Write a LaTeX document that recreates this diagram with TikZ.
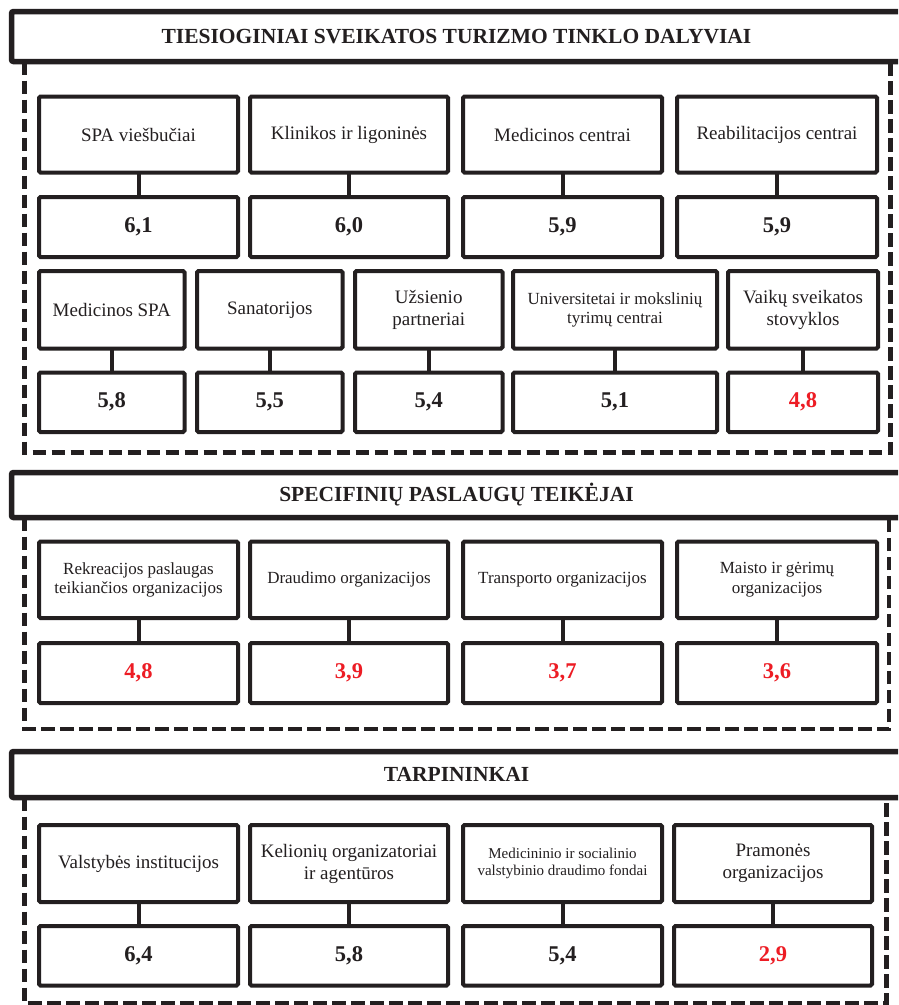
\documentclass[tikz,border=0pt]{standalone}
\usepackage{fontspec}
\setmainfont{Liberation Serif}
\definecolor{ink}{HTML}{231F20}
\definecolor{hot}{HTML}{ED1C24}

% place a named node from its corner coordinates: name, x1, y1, x2, y2, style, text
\newcommand\placebox[7]{%
  \pgfmathsetmacro\pbW{#4-#2}\pgfmathsetmacro\pbH{#5-#3}%
  \pgfmathsetmacro\pbX{(#2+#4)/2}\pgfmathsetmacro\pbY{(#3+#5)/2}%
  \node[#6, minimum width=\pbW pt, minimum height=\pbH pt] (#1) at (\pbX,\pbY) {#7};}

\begin{document}
\begin{tikzpicture}[x=1pt,y=-1pt,
  hdr/.style={draw=ink, line width=5.5pt, rounded corners=2pt, fill=white,
    inner sep=0pt, outer sep=0pt, text=ink,
    font=\fontsize{21.5}{24}\selectfont\bfseries},
  grp/.style={draw=ink, line width=4.5pt, dash pattern=on 13.5pt off 5.5pt},
  lbl/.style={draw=ink, line width=4pt, rounded corners=1.5pt, fill=white,
    inner sep=0pt, outer sep=0pt, align=center, text=ink,
    font=\fontsize{19}{22}\selectfont},
  small/.style={font=\fontsize{17}{19.5}\selectfont},
  tiny/.style={font=\fontsize{15}{17}\selectfont},
  val/.style={draw=ink, line width=4pt, rounded corners=1.5pt, fill=white,
    inner sep=0pt, outer sep=0pt, text=ink,
    font=\fontsize{22.5}{26}\selectfont\bfseries},
  low/.style={text=hot},
  link/.style={draw=ink, line width=4pt}]

\useasboundingbox (0,0) rectangle (898,1005);
\clip (0,0) rectangle (898,1005);
\fill[white] (0,0) rectangle (898,1005);

% dashed group frames
\draw[grp] (24.5,61.5) -- (24.5,452.5) -- (890.5,452.5) -- (890.5,61.5);
\draw[grp] (24.5,517.5) -- (24.5,729) -- (889,729) -- (889,517.5);
\draw[grp] (24.5,797.5) -- (24.5,1003) -- (886.5,1003) -- (886.5,797.5);

% group headers
\placebox{h1}{11.5}{11.5}{901.5}{61.5}{hdr}{TIESIOGINIAI SVEIKATOS TURIZMO TINKLO DALYVIAI}
\placebox{h2}{11.5}{472.5}{901.5}{517.5}{hdr}{SPECIFINIŲ PASLAUGŲ TEIKĖJAI}
\placebox{h3}{11.5}{751.5}{901.5}{797.5}{hdr}{TARPININKAI}

% direct participants, first row
\placebox{a1}{39}{96.5}{238}{172.5}{lbl}{SPA viešbučiai}
\placebox{a2}{250}{96.5}{448}{172.5}{lbl}{Klinikos ir ligoninės}
\placebox{a3}{463}{96.5}{662}{172.5}{lbl}{Medicinos centrai}
\placebox{a4}{677}{96.5}{877}{172.5}{lbl}{Reabilitacijos centrai}
\placebox{va1}{39}{197}{238}{257}{val}{6,1}
\placebox{va2}{250}{197}{448}{257}{val}{6,0}
\placebox{va3}{463}{197}{662}{257}{val}{5,9}
\placebox{va4}{677}{197}{877}{257}{val}{5,9}

% direct participants, second row
\placebox{b1}{39}{271}{184.5}{348.5}{lbl}{Medicinos SPA}
\placebox{b2}{197}{271}{342.5}{348.5}{lbl}{Sanatorijos}
\placebox{b3}{355}{271}{502.5}{348.5}{lbl}{Užsienio\\partneriai}
\placebox{b4}{513}{271}{717}{348.5}{lbl,small}{Universitetai ir mokslinių\\tyrimų centrai}
\placebox{b5}{728}{271}{878}{348.5}{lbl}{Vaikų sveikatos\\stovyklos}
\placebox{vb1}{39}{372.5}{184.5}{432}{val}{5,8}
\placebox{vb2}{197}{372.5}{342.5}{432}{val}{5,5}
\placebox{vb3}{355}{372.5}{502.5}{432}{val}{5,4}
\placebox{vb4}{513}{372.5}{717}{432}{val}{5,1}
\placebox{vb5}{728}{372.5}{878}{432}{val,low}{4,8}

% specific service providers
\placebox{c1}{39}{541.5}{238}{618}{lbl,small}{Rekreacijos paslaugas\\teikiančios organizacijos}
\placebox{c2}{250}{541.5}{448}{618}{lbl,small}{Draudimo organizacijos}
\placebox{c3}{463}{541.5}{662}{618}{lbl,small}{Transporto organizacijos}
\placebox{c4}{677}{541.5}{877}{618}{lbl,small}{Maisto ir gėrimų\\organizacijos}
\placebox{vc1}{39}{643}{238}{703}{val,low}{4,8}
\placebox{vc2}{250}{643}{448}{703}{val,low}{3,9}
\placebox{vc3}{463}{643}{662}{703}{val,low}{3,7}
\placebox{vc4}{677}{643}{877}{703}{val,low}{3,6}

% intermediaries
\placebox{d1}{39}{825}{238}{902}{lbl}{Valstybės institucijos}
\placebox{d2}{250}{825}{448}{902}{lbl}{Kelionių organizatoriai\\ir agentūros}
\placebox{d3}{463}{825}{662}{902}{lbl,tiny}{Medicininio ir socialinio\\valstybinio draudimo fondai}
\placebox{d4}{674}{825}{872}{902}{lbl}{Pramonės\\organizacijos}
\placebox{vd1}{39}{926}{238}{985.5}{val}{6,4}
\placebox{vd2}{250}{926}{448}{985.5}{val}{5,8}
\placebox{vd3}{463}{926}{662}{985.5}{val}{5,4}
\placebox{vd4}{674}{926}{872}{985.5}{val,low}{2,9}

% links from each participant to its score
\foreach \p/\q in {a1/va1,a2/va2,a3/va3,a4/va4,
                   b1/vb1,b2/vb2,b3/vb3,b4/vb4,b5/vb5,
                   c1/vc1,c2/vc2,c3/vc3,c4/vc4,
                   d1/vd1,d2/vd2,d3/vd3,d4/vd4}
  \draw[link] (\p.south) -- (\q.north);
\end{tikzpicture}
\end{document}
